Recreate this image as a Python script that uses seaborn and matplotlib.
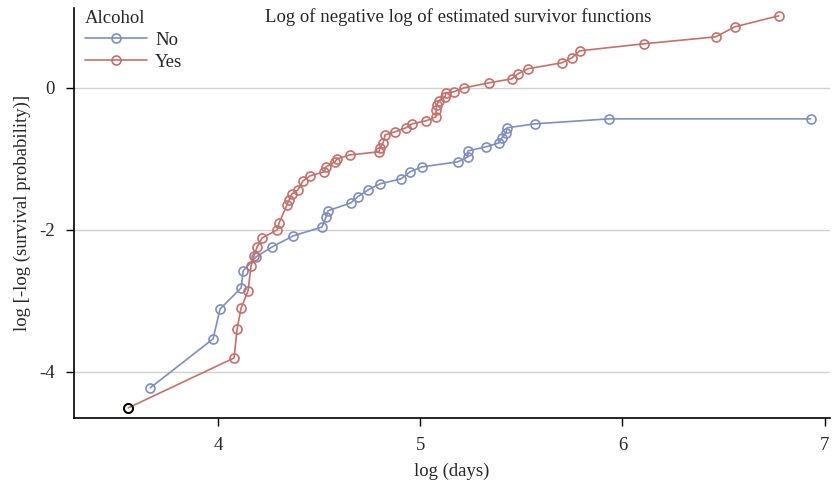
import numpy as np
import pandas as pd
import matplotlib
matplotlib.use('Agg')
import matplotlib.pyplot as plt
import seaborn as sns

# log(days) vs log(-log(S))
no_x = [3.664, 3.975, 4.010, 4.114, 4.124, 4.188, 4.267, 4.371, 4.514, 4.534,
        4.544, 4.657, 4.690, 4.742, 4.800, 4.905, 4.949, 5.008, 5.186, 5.236,
        5.236, 5.325, 5.389, 5.404, 5.424, 5.429, 5.567, 5.933, 6.931]
no_y = [-4.225, -3.535, -3.113, -2.817, -2.577, -2.380, -2.240, -2.085, -1.960, -1.817,
        -1.730, -1.620, -1.535, -1.437, -1.352, -1.282, -1.183, -1.113, -1.042, -0.972,
        -0.887, -0.831, -0.775, -0.704, -0.634, -0.563, -0.507, -0.437, -0.437]

yes_x = [3.555, 4.079, 4.094, 4.114, 4.148, 4.163, 4.178, 4.193, 4.218, 4.292,
         4.302, 4.341, 4.351, 4.366, 4.395, 4.420, 4.455, 4.524, 4.534, 4.578,
         4.588, 4.652, 4.796, 4.800, 4.816, 4.826, 4.875, 4.929, 4.959, 5.028,
         5.078, 5.078, 5.083, 5.092, 5.122, 5.127, 5.167, 5.216, 5.340, 5.453,
         5.483, 5.532, 5.700, 5.750, 5.789, 6.106, 6.462, 6.556, 6.773]
yes_y = [-4.507, -3.803, -3.394, -3.099, -2.859, -2.507, -2.366, -2.240, -2.113, -2.000,
         -1.900, -1.648, -1.577, -1.493, -1.437, -1.310, -1.239, -1.183, -1.113, -1.042,
         -1.000, -0.944, -0.901, -0.845, -0.775, -0.662, -0.620, -0.563, -0.507, -0.465,
         -0.408, -0.310, -0.240, -0.183, -0.127, -0.070, -0.056, 0.000, 0.070, 0.127,
         0.197, 0.268, 0.352, 0.423, 0.521, 0.620, 0.718, 0.859, 1.014]

df = pd.DataFrame({
    'logdays': no_x + yes_x,
    'lls': no_y + yes_y,
    'Alcohol': ['No'] * len(no_x) + ['Yes'] * len(yes_x),
})

sns.set_style('white')
plt.rcParams['font.family'] = ['Liberation Serif', 'DejaVu Serif']
fs = 13.5

fig = plt.figure(figsize=(8.33, 4.86), dpi=100)
ax = fig.add_axes([0.089, 0.14, 0.907, 0.844])

sns.lineplot(data=df, x='logdays', y='lls', hue='Alcohol',
             palette={'No': '#7f8ec0', 'Yes': '#c4716a'},
             estimator=None, sort=False, marker='o', markersize=6.5,
             markerfacecolor='none', markeredgewidth=1.2, linewidth=1.2, ax=ax)
for line in ax.get_lines():
    line.set_markeredgecolor(line.get_color())

# first point of the "Yes" curve is drawn in black
ax.plot(yes_x[:1], yes_y[:1], 'o', mfc='none', mec='black', ms=6.5, mew=1.4, zorder=5)

ax.set_xlim(3.288, 7.025)
ax.set_ylim(-4.648, 1.127)
ax.set_xticks([4, 5, 6, 7])
ax.set_yticks([0, -2, -4])
ax.set_yticklabels(['0', '-2', '-4'])
ax.yaxis.grid(True, color='#d0d0d0', linewidth=1)
ax.set_axisbelow(True)
ax.tick_params(axis='both', direction='out', length=6, width=1, color='black',
               left=True, bottom=True, labelsize=fs, pad=8)
sns.despine(ax=ax)
for s in ['left', 'bottom']:
    ax.spines[s].set_color('black')
    ax.spines[s].set_linewidth(1.2)

ax.set_xlabel('log (days)', fontsize=fs, labelpad=6)
ax.set_ylabel('log [-log (survival probability)]', fontsize=fs, labelpad=6)
ax.text(0.508, 0.998, 'Log of negative log of estimated survivor functions',
        transform=ax.transAxes, ha='center', va='top', fontsize=fs)

leg = ax.legend(title='Alcohol', loc='upper left', frameon=False, fontsize=fs,
                title_fontsize=fs, alignment='left', borderaxespad=0.0,
                bbox_to_anchor=(0.004, 1.013), handlelength=3.3, handletextpad=0.45,
                labelspacing=0.25)

fig.savefig('out.png', dpi=100)
